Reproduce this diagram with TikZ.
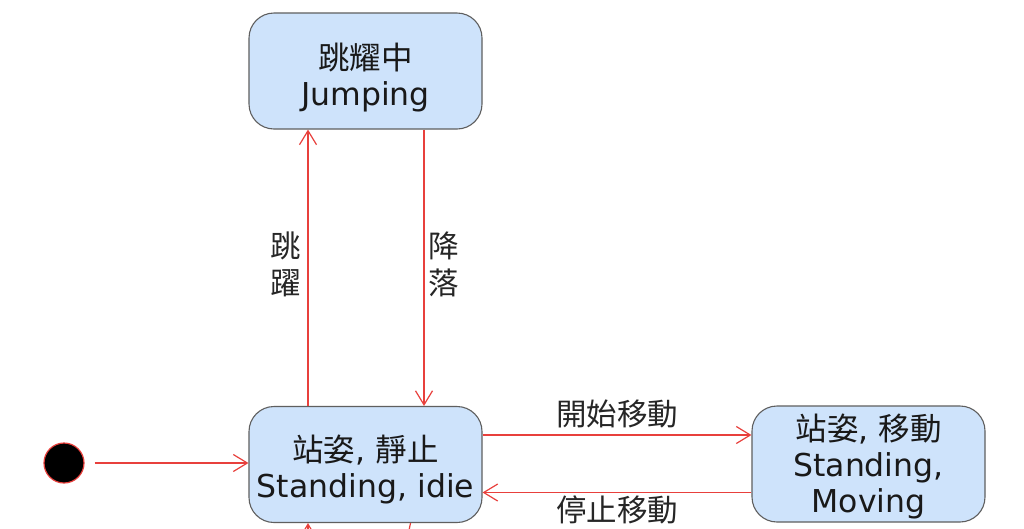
\documentclass[tikz,border=0pt]{standalone}
\usepackage{fontspec}
\setmainfont{DejaVu Sans}
\newfontfamily\cjk{Noto Sans CJK TC}
\usepackage{xcolor}
\definecolor{stfill}{RGB}{206, 227, 251}
\definecolor{stline}{RGB}{95, 95, 95}
\definecolor{trred}{RGB}{232, 64, 60}
\usetikzlibrary{arrows.meta, calc}

\begin{document}
\begin{tikzpicture}[x=1pt, y=-1pt,
    state/.style={draw=stline, line width=1.1pt, fill=stfill, rounded corners=25pt,
        minimum width=233pt, minimum height=116pt, align=center, inner sep=2pt,
        font=\fontsize{31.5}{36}\selectfont, text=black!90},
    trans/.style={draw=trred, line width=1.2pt, -{Straight Barb[length=14pt, width=17pt, line width=1.2pt]}},
    lbl/.style={font=\fontsize{30.5}{37}\selectfont\cjk, text=black!85, align=center}]

\clip (0, 0) rectangle (1024, 528);
\fill[white] (0, 0) rectangle (1024, 528);

% === Estados ===
\node[state] (jump) at (365.5, 71) {\rule{0pt}{40pt}{\cjk 跳耀中}\\Jumping};
\node[state] (stand) at (365.5, 464.5) {\rule{0pt}{37pt}{\cjk 站姿}, {\cjk 靜止}\\Standing, idie};
\node[state] (move) at (868.5, 464) {\rule{0pt}{32pt}{\cjk 站姿}, {\cjk 移動}\\Standing,\\Moving};

% === Estado inicial ===
\node[circle, fill=black, draw=trred, line width=1.2pt, minimum size=40pt, inner sep=0pt] (init) at (64, 463) {};
\draw[trans, shorten <=10pt] (init) -- (stand.west |- init);

% === Transiciones ===
\draw[trans] ([xshift=-57.5pt]stand.north) -- ([xshift=-57.5pt]jump.south)
    node[lbl, midway, left=3pt, yshift=3pt] {跳\\躍};
\draw[trans] ([xshift=58.5pt]jump.south) -- ([xshift=58.5pt]stand.north)
    node[lbl, midway, right=1pt, yshift=3pt] {降\\落};

\draw[trans] ([yshift=29.5pt]stand.east) -- ([yshift=29.5pt]stand.east -| move.west)
    node[lbl, midway, above=3pt] {開始移動};
\draw[trans] ([yshift=-28.5pt]move.west) -- ([yshift=-28.5pt]move.west -| stand.east)
    node[lbl, midway, below=-1pt] {停止移動};

% Transiciones cortadas por el borde inferior
\coordinate (cut1) at (308, 560);
\coordinate (cut2) at (403, 560);
\draw[trans] (cut1) -- ([xshift=-57.5pt]stand.south);
\draw[draw=trred, line width=1.2pt] ([xshift=45pt]stand.south) -- (cut2);

\end{tikzpicture}
\end{document}
